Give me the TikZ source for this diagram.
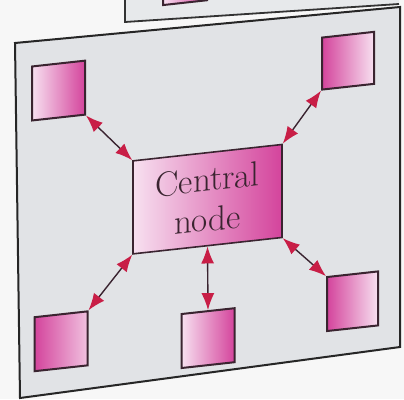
\documentclass[tikz,border=0pt]{standalone}
\usetikzlibrary{arrows.meta}
\definecolor{panelgray}{HTML}{E1E3E6}
\definecolor{pinklight}{HTML}{F7E0F0}
\definecolor{pinkdeep}{HTML}{D4449C}
\definecolor{tipred}{HTML}{C81E46}
\definecolor{inkdark}{HTML}{3A2430}
\tikzset{
  leaf/.style={draw=inkdark,line width=2pt,minimum width=53pt,minimum height=54pt,inner sep=0pt,transform shape},
  hub/.style={draw=inkdark,line width=1.6pt,minimum width=149pt,minimum height=93pt,inner sep=0pt,
    left color=pinklight,right color=pinkdeep,align=center,text=inkdark,
    font=\fontsize{35}{40}\selectfont,transform shape},
  link/.style={{Latex[color=tipred,length=17pt,width=13pt]}-{Latex[color=tipred,length=17pt,width=13pt]},
    draw=inkdark,line width=1.4pt}
}
\begin{document}
\begin{tikzpicture}[x=1pt,y=1pt]
  \useasboundingbox (0,0) rectangle (404,-399);
  \fill[black!3] (0,0) rectangle (404,-399);
  % panel behind
  \fill[panelgray!80] (125,0) -- (125,-22) -- (399,-4) -- (399,0) -- cycle;
  \draw[line width=1.8pt,black!80] (125,0) -- (125,-22) -- (399,-4);
  % front panel
  \filldraw[fill=panelgray,draw=black!85,line width=2pt] (15,-43) -- (400,-7) -- (400,-347) -- (20,-398) -- cycle;
  \begin{scope}[cm={1,0.11,0,1,(0,0)}]
    \node[leaf,minimum width=44pt,left color=pinklight,right color=pinkdeep] (back) at (185,4) {};
    \node[hub] (central) at (207.5,-222) {Central\\node};
    \node[leaf,left color=pinklight,right color=pinkdeep] (nw) at (58.5,-97) {};
    \node[leaf,minimum width=52pt,minimum height=52pt,left color=pinkdeep,right color=pinklight] (ne) at (348,-99) {};
    \node[leaf,left color=pinkdeep,right color=pinklight!80!pinkdeep] (sw) at (61,-348) {};
    \node[leaf,left color=pinklight,right color=pinkdeep] (s) at (208,-361) {};
    \node[leaf,minimum width=51pt,left color=pinkdeep,right color=pinklight] (se) at (352.5,-340) {};
  \end{scope}
  \draw[link] (central.north west) -- (nw.south east);
  \draw[link] (central.north east) -- (ne.south west);
  \draw[link] (central.south west) -- (sw.north east);
  \draw[link] (central.south east) -- (se.north west);
  \draw[link] (central.south) -- (s.north);
\end{tikzpicture}
\end{document}
